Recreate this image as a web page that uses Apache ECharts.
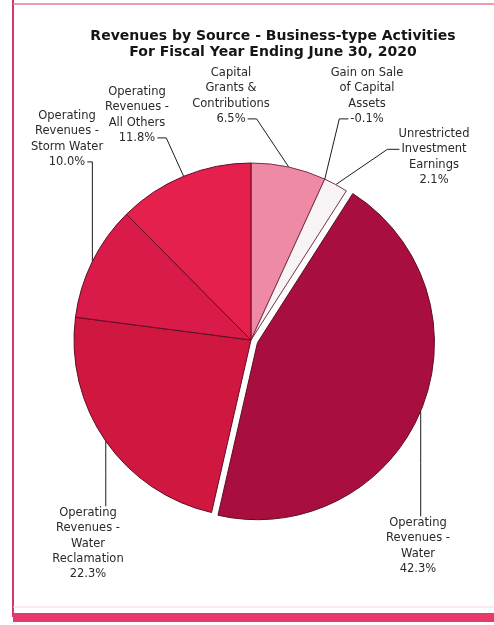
<!DOCTYPE html>
<html>
<head>
<meta charset="utf-8">
<script src="https://cdn.jsdelivr.net/npm/echarts@6/dist/echarts.min.js"></script>
<style>
  html, body { margin: 0; padding: 0; background: #ffffff; }
  #chart { width: 494px; height: 625px; }
</style>
</head>
<body>
<div id="chart"></div>
<script>
// Chart title (two lines)
const titleLines = [
  'Revenues by Source - Business-type Activities',
  'For Fiscal Year Ending June 30, 2020'
];

// Revenue sources, in clockwise order starting at 12 o'clock
const categories = [
  'Capital\nGrants &\nContributions',
  'Gain on Sale\nof Capital\nAssets',
  'Unrestricted\nInvestment\nEarnings',
  'Operating\nRevenues -\nWater',
  'Operating\nRevenues -\nWater\nReclamation',
  'Operating\nRevenues -\nStorm Water',
  'Operating\nRevenues -\nAll Others'
];

// Share of total revenues, percent
const shares = [6.5, -0.1, 2.1, 42.3, 22.3, 10.0, 11.8];

// Slice fills
const sliceColors = ['#ee8aa6', '#f3e9ec', '#f8f3f5', '#a90f3e', '#d0173f', '#d81b48', '#e6204d'];

// Label placement: centre x, first-line y, and how the leader line attaches
const labelSpots = [
  { x: 231, y: 73,  lead: 'lastRight' },
  { x: 367, y: 73,  lead: 'lastLeft' },
  { x: 434, y: 134, lead: 'row2Left' },
  { x: 418, y: 523, lead: 'top' },
  { x: 88,  y: 513, lead: 'top' },
  { x: 67,  y: 116, lead: 'vertThenRight' },
  { x: 137, y: 92,  lead: 'lastRight' }
];

const FONT = '"DejaVu Sans", "Liberation Sans", Arial, sans-serif';
const LABEL_SIZE = 11.5;
const LINE_H = 15.3;
const LABEL_COLOR = '#2a2a2a';
const LEADER_COLOR = '#1c1c1c';
const PIE_CX = 251, PIE_CY = 340, PIE_R = 177;
const EXPLODE = 7;
const explodedIndex = 3;

const measureCtx = document.createElement('canvas').getContext('2d');
measureCtx.font = LABEL_SIZE + 'px ' + FONT;
function textWidth(s) { return measureCtx.measureText(s).width; }

function labelText(i) {
  return categories[i] + '\n' + shares[i].toFixed(1) + '%';
}

// A pie can only sweep non-negative shares; negative ones keep a label at their boundary
const pieIndices = shares.map((v, i) => i).filter(i => shares[i] >= 0);
// Labels drawn as free graphics: shares without a sweep, and the pulled-out slice
const freeLabelIndices = shares.map((v, i) => i).filter(i => shares[i] < 0 || i === explodedIndex);

// Mid-angle of each slice, following the pie's clockwise layout from 12 o'clock
const total = pieIndices.reduce((a, i) => a + shares[i], 0);
const midAngles = [];
(function () {
  let start = 0;
  shares.forEach(function (v) {
    const span = Math.max(0, v) / total * 2 * Math.PI;
    midAngles.push(start + span / 2);
    start += span;
  });
})();

function arcPoint(i) {
  const a = midAngles[i];
  let x = PIE_CX + PIE_R * Math.sin(a);
  let y = PIE_CY - PIE_R * Math.cos(a);
  if (i === explodedIndex) {
    x += EXPLODE * Math.sin(a);
    y -= EXPLODE * Math.cos(a);
  }
  return [x, y];
}

function leaderPoints(i) {
  const spot = labelSpots[i];
  const lines = labelText(i).split('\n');
  const n = lines.length;
  const p0 = arcPoint(i);
  const lastY = spot.y + (n - 1) * LINE_H;
  const lastW = textWidth(lines[n - 1]);
  switch (spot.lead) {
    case 'lastRight': {
      const r = spot.x + lastW / 2 + 2;
      return [p0, [r + 9, lastY], [r, lastY]];
    }
    case 'lastLeft': {
      const l = spot.x - lastW / 2 - 2;
      return [p0, [l - 9, lastY], [l, lastY]];
    }
    case 'row2Left': {
      const y2 = spot.y + LINE_H;
      const l = spot.x - textWidth(lines[1]) / 2 - 2;
      return [p0, [l - 12, y2], [l, y2]];
    }
    case 'vertThenRight': {
      const r = spot.x + lastW / 2 + 2;
      return [p0, [p0[0], lastY], [r, lastY]];
    }
    default: {
      const top = spot.y - LINE_H / 2 + 1;
      return [p0, [p0[0], (p0[1] + top) / 2], [p0[0], top]];
    }
  }
}

// Frame around the chart
const frame = [
  { type: 'line', shape: { x1: 13, y1: 0, x2: 13, y2: 617 }, style: { stroke: '#d23a66', lineWidth: 2 } },
  { type: 'line', shape: { x1: 13, y1: 4, x2: 494, y2: 4 }, style: { stroke: '#e07a98', lineWidth: 1.5 } },
  { type: 'line', shape: { x1: 13, y1: 607, x2: 494, y2: 607 }, style: { stroke: '#f6d4de', lineWidth: 1 } },
  { type: 'rect', shape: { x: 13, y: 613, width: 481, height: 9 }, style: { fill: '#e8396c' } }
];

// Free-standing labels with their leader lines
const freeLabels = [];
freeLabelIndices.forEach(function (i) {
  const spot = labelSpots[i];
  freeLabels.push({
    type: 'polyline',
    z: 10,
    shape: { points: leaderPoints(i) },
    style: { stroke: LEADER_COLOR, lineWidth: 1, fill: null }
  });
  freeLabels.push({
    type: 'text',
    z: 10,
    x: spot.x,
    y: spot.y - LINE_H / 2,
    style: {
      text: labelText(i),
      fill: LABEL_COLOR,
      font: LABEL_SIZE + 'px ' + FONT,
      lineHeight: LINE_H,
      align: 'center',
      verticalAlign: 'top'
    }
  });
});

const chart = echarts.init(document.getElementById('chart'), null, { renderer: 'canvas' });

chart.setOption({
  animation: false,
  backgroundColor: '#ffffff',
  title: {
    text: titleLines.join('\n'),
    left: 268,
    top: 23,
    textAlign: 'center',
    textStyle: {
      fontFamily: FONT,
      fontSize: 14,
      fontWeight: 'bold',
      color: '#151515',
      lineHeight: 16.5
    }
  },
  graphic: frame.concat(freeLabels),
  series: [{
    type: 'pie',
    center: [PIE_CX, PIE_CY],
    radius: PIE_R,
    startAngle: 90,
    clockwise: true,
    selectedMode: 'multiple',
    selectedOffset: EXPLODE,
    avoidLabelOverlap: false,
    emphasis: { disabled: true },
    itemStyle: {
      borderColor: '#5e0d25',
      borderWidth: 1
    },
    label: {
      show: true,
      position: 'outside',
      fontFamily: FONT,
      fontSize: LABEL_SIZE,
      lineHeight: LINE_H,
      color: LABEL_COLOR,
      align: 'center',
      formatter: function (p) { return labelText(pieIndices[p.dataIndex]); }
    },
    labelLine: {
      show: true,
      lineStyle: { color: LEADER_COLOR, width: 1 }
    },
    labelLayout: function (params) {
      const i = pieIndices[params.dataIndex];
      const spot = labelSpots[i];
      return {
        x: spot.x,
        y: spot.y - LINE_H / 2,
        align: 'center',
        verticalAlign: 'top',
        labelLinePoints: leaderPoints(i)
      };
    },
    data: pieIndices.map(function (i) {
      const free = freeLabelIndices.indexOf(i) >= 0;
      return {
        name: categories[i],
        value: shares[i],
        selected: i === explodedIndex,
        itemStyle: {
          color: sliceColors[i],
          borderColor: i < 3 ? '#7a3048' : '#5e0d25'
        },
        label: { show: !free },
        labelLine: { show: !free },
        select: {
          itemStyle: { color: sliceColors[i] },
          label: { show: !free },
          labelLine: { show: !free }
        }
      };
    })
  }]
});
</script>
</body>
</html>
